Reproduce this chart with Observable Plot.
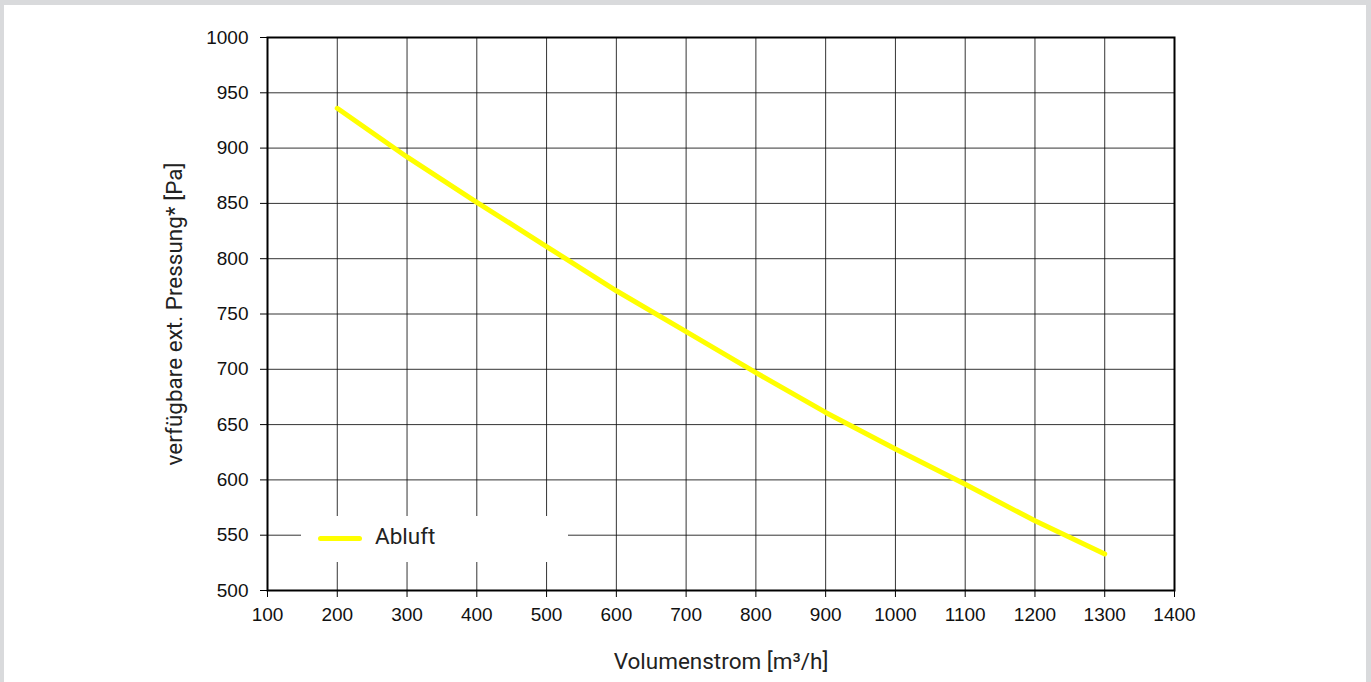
<!DOCTYPE html>
<html>
<head>
<meta charset="utf-8">
<script src="https://cdn.jsdelivr.net/npm/d3@7"></script>
<script src="https://cdn.jsdelivr.net/npm/@observablehq/plot@0.6"></script>
<style>
  html, body { margin: 0; padding: 0; }
  body { background: #d9dadc; width: 1371px; height: 682px; overflow: hidden; position: relative; }
  #card { position: absolute; left: 4px; top: 5px; width: 1362px; height: 680px; background: #fff; }
  #chart { position: absolute; left: 0; top: 0; }
  #legend { position: absolute; left: 301px; top: 516px; width: 267px; height: 46px; background: #fff;
            font-family: Roboto, sans-serif; font-size: 22.5px; color: #222; }
  #legend .sw { position: absolute; left: 17px; top: 20px; width: 44px; height: 5px; background: #ffff00; border-radius: 3px; }
  #legend .lb { position: absolute; left: 74px; top: 7px; }
</style>
</head>
<body>
<div id="card"></div>
<div id="chart"></div>
<div id="legend"><div class="sw"></div><div class="lb">Abluft</div></div>
<script>
const volumenstrom = [200, 300, 400, 500, 600, 700, 800, 900, 1000, 1100, 1200, 1300];
const abluft = [936, 892, 851, 811, 771, 734, 697, 661, 628, 596, 563, 533];
const xTicks = [100, 200, 300, 400, 500, 600, 700, 800, 900, 1000, 1100, 1200, 1300, 1400];
const yTicks = [500, 550, 600, 650, 700, 750, 800, 850, 900, 950, 1000];
const seriesName = "Abluft";
const xTitle = "Volumenstrom [m³/h]";
const yTitle = "verfügbare ext. Pressung* [Pa]";

const data = volumenstrom.map((v, i) => ({x: v, y: abluft[i], s: seriesName}));

const chart = Plot.plot({
  width: 1371,
  height: 682,
  marginLeft: 267,
  marginRight: 197,
  marginTop: 37,
  marginBottom: 92,
  style: {background: "transparent", fontFamily: "'Liberation Sans', Arial, sans-serif", fontSize: "19px", color: "#111", overflow: "visible"},
  x: {domain: [100, 1400]},
  y: {domain: [500, 1000]},
  marks: [
    Plot.gridX(xTicks, {stroke: "#111", strokeOpacity: 0.85, strokeWidth: 1}),
    Plot.gridY(yTicks, {stroke: "#111", strokeOpacity: 0.85, strokeWidth: 1}),
    Plot.axisX(xTicks, {tickSize: 7, tickPadding: 10, tickFormat: d => String(d), label: null, stroke: "#000"}),
    Plot.axisY(yTicks, {tickSize: 7, tickPadding: 12, tickFormat: d => String(d), label: null, stroke: "#000"}),
    Plot.frame({stroke: "#000", strokeWidth: 2}),
    Plot.line(data, {x: "x", y: "y", stroke: "#ffff00", strokeWidth: 5, strokeLinecap: "round"}),
    Plot.text([xTitle], {frameAnchor: "bottom", dy: 78, text: d => d, fontFamily: "Roboto, sans-serif", fontSize: 22.5, fill: "#222"}),
    Plot.text([yTitle], {frameAnchor: "left", dx: -93, rotate: -90, textAnchor: "middle", text: d => d, fontFamily: "Roboto, sans-serif", fontSize: 22.5, fill: "#222"})
  ]
});
document.getElementById("chart").appendChild(chart);
</script>
</body>
</html>
